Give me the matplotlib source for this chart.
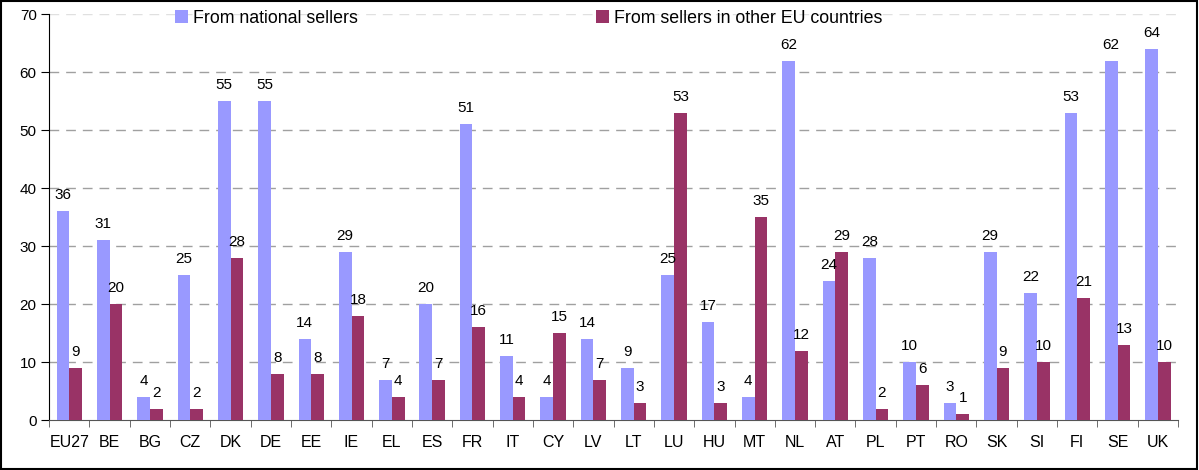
import numpy as np
import matplotlib.pyplot as plt
from matplotlib.patches import Rectangle

plt.rcParams['font.family'] = ['Liberation Sans', 'DejaVu Sans']

countries = ['EU27', 'BE', 'BG', 'CZ', 'DK', 'DE', 'EE', 'IE', 'EL', 'ES', 'FR', 'IT', 'CY', 'LV',
             'LT', 'LU', 'HU', 'MT', 'NL', 'AT', 'PL', 'PT', 'RO', 'SK', 'SI', 'FI', 'SE', 'UK']
national = [36, 31, 4, 25, 55, 55, 14, 29, 7, 20, 51, 11, 4, 14,
            9, 25, 17, 4, 62, 24, 28, 10, 3, 29, 22, 53, 62, 64]
other_eu = [9, 20, 2, 2, 28, 8, 8, 18, 4, 7, 16, 4, 15, 7,
            3, 53, 3, 35, 12, 29, 2, 6, 1, 9, 10, 21, 13, 10]

blue = '#9999FF'
maroon = '#993366'

fig = plt.figure(figsize=(11.99, 4.70), dpi=100)
ax = fig.add_axes([0.041, 0.106, 0.9415, 0.864])

x = np.arange(len(countries))
w = 0.315
b1 = ax.bar(x - w / 2, national, w, color=blue, label='From national sellers', zorder=3)
b2 = ax.bar(x + w / 2, other_eu, w, color=maroon, label='From sellers in other EU countries', zorder=3)

for bars in (b1, b2):
    for r in bars:
        ax.annotate(f'{int(r.get_height())}', (r.get_x() + r.get_width() / 2, r.get_height()),
                    xytext=(0, 9), textcoords='offset pixels', ha='center', va='bottom',
                    fontsize=11, zorder=4)

ax.set_xlim(-0.5, len(countries) - 0.5)
ax.set_ylim(0, 70)
ax.set_yticks(range(0, 71, 10))
ax.set_xticks(x)
ax.set_xticklabels(countries)
ax.set_xticks(np.arange(-0.5, len(countries), 1), minor=True)
ax.tick_params(axis='x', which='major', length=0, labelsize=11.5, pad=11)
ax.tick_params(axis='x', which='minor', length=5, direction='out', color='#555555')
ax.tick_params(axis='y', length=6, direction='out', labelsize=11, pad=3)

ax.yaxis.grid(True, color='#a0a0a0', linestyle=(0, (7, 5)), linewidth=1, zorder=0)
ax.get_ygridlines()[-1].set_color('#e0e0e0')
ax.get_ygridlines()[0].set_visible(False)

for s in ('top', 'right'):
    ax.spines[s].set_visible(False)
ax.spines['left'].set_color('black')
ax.spines['bottom'].set_color('#555555')

ax.legend(loc='upper left', bbox_to_anchor=(0.1114, 1.01), ncol=2, frameon=False,
          fontsize=12.8, handlelength=0.73, handleheight=0.73, handletextpad=0.28,
          columnspacing=13.4, borderpad=0, borderaxespad=0)

fig.patches.append(Rectangle((0.001, 0.002), 0.997, 0.995, transform=fig.transFigure,
                             fill=False, edgecolor='black', linewidth=1.5))

fig.savefig('out.png', dpi=100)
